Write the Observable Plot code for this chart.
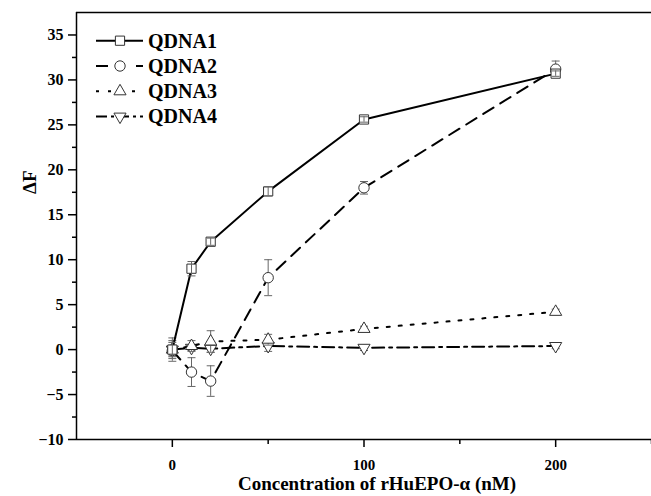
<!DOCTYPE html>
<html>
<head>
<meta charset="utf-8">
<script src="https://cdn.jsdelivr.net/npm/d3@7"></script>
<script src="https://cdn.jsdelivr.net/npm/@observablehq/plot@0.6"></script>
<style>
  html, body { margin: 0; padding: 0; background: #fff; }
  #chart svg { display: block; }
</style>
</head>
<body>
<div id="chart"></div>
<script>
// rHuEPO-α concentrations (nM) and fluorescence change ΔF for each probe
const concentrations = [0, 10, 20, 50, 100, 200];
const seriesNames = ["QDNA1", "QDNA2", "QDNA3", "QDNA4"];
const qdna1 = [0.0, 9.0, 12.0, 17.6, 25.6, 30.7];
const qdna1Err = [0.8, 0.8, 0.4, 0.5, 0.3, 0.3];
const qdna2 = [-0.1, -2.5, -3.5, 8.0, 18.0, 31.2];
const qdna2Err = [0.6, 1.6, 1.7, 2.0, 0.7, 0.9];
const qdna3 = [0.0, 0.4, 0.9, 1.1, 2.3, 4.2];
const qdna3Err = [1.0, 0.6, 1.2, 0.6, 0.3, 0.3];
const qdna4 = [0.0, 0.2, 0.1, 0.4, 0.2, 0.4];
const qdna4Err = [1.3, 0.3, 0.4, 0.6, 0.3, 0.3];

// Axis settings
const xDomain = [-50, 250];
const yDomain = [-10, 37.5];
const xTicks = [0, 100, 200];
const xMinorTicks = [50, 150, 250];
const yTicks = [-10, -5, 0, 5, 10, 15, 20, 25, 30, 35];
const yMinorTicks = [-7.5, -2.5, 2.5, 7.5, 12.5, 17.5, 22.5, 27.5, 32.5];
const xLabel = "Concentration of rHuEPO-α (nM)";
const yLabel = "ΔF";

const values = [qdna1, qdna2, qdna3, qdna4];
const errors = [qdna1Err, qdna2Err, qdna3Err, qdna4Err];

// Custom symbols: downward triangle and error-bar cap
const triangleDown = {
  draw(context, size) {
    const y = -Math.sqrt(size / (Math.sqrt(3) * 3));
    context.moveTo(0, -2 * y);
    context.lineTo(-Math.sqrt(3) * y, y);
    context.lineTo(Math.sqrt(3) * y, y);
    context.closePath();
  }
};
const capSymbol = {
  draw(context, size) {
    const w = Math.sqrt(size);
    context.moveTo(-w / 2, 0);
    context.lineTo(w / 2, 0);
  }
};

const styles = [
  {symbol: d3.symbolSquare, r: 5.2, dash: null},
  {symbol: d3.symbolCircle, r: 5.2, dash: "12,8"},
  {symbol: d3.symbolTriangle, r: 4.5, dash: "3,9"},
  {symbol: triangleDown, r: 4.5, dash: "12,5,3,5"}
];
const legendDash = [null, "12,28", "3,9", "11,4,3,4"];

const rows = seriesNames.flatMap((name, s) =>
  concentrations.map((c, i) => ({series: name, s, x: c, y: values[s][i], err: errors[s][i]}))
);

const serif = "'Liberation Serif', 'Times New Roman', serif";
const errColor = "#666";
const markColor = "#333";

function seriesMarks(s) {
  const data = rows.filter(d => d.s === s);
  const st = styles[s];
  const bars = [
    Plot.ruleX(data, {x: "x", y1: d => d.y - d.err, y2: d => d.y + d.err, stroke: errColor, strokeWidth: 1}),
    Plot.dot(data, {x: "x", y: d => d.y - d.err, symbol: capSymbol, r: 4.5, stroke: errColor, strokeWidth: 1}),
    Plot.dot(data, {x: "x", y: d => d.y + d.err, symbol: capSymbol, r: 4.5, stroke: errColor, strokeWidth: 1})
  ];
  const line = Plot.line(data, {
    x: "x", y: "y", stroke: "black", strokeWidth: 2,
    strokeDasharray: st.dash ?? undefined
  });
  const dots = Plot.dot(data, {
    x: "x", y: "y", symbol: st.symbol, r: st.r,
    fill: "white", stroke: markColor, strokeWidth: 1
  });
  // squares show their error bar on top of the marker
  return s === 0 ? [line, dots, ...bars] : [...bars, line, dots];
}

const chart = Plot.plot({
  width: 651,
  height: 496,
  marginLeft: 76,
  marginRight: 0,
  marginTop: 12,
  marginBottom: 57,
  style: {fontFamily: serif, background: "white", color: "black"},
  x: {domain: xDomain},
  y: {domain: yDomain},
  marks: [
    // plot box: left, bottom and top edges
    Plot.ruleX([xDomain[0]], {stroke: "black", strokeWidth: 1.5}),
    Plot.ruleY([yDomain[0]], {stroke: "black", strokeWidth: 1.5}),
    Plot.ruleY([yDomain[1]], {stroke: "black", strokeWidth: 1.5}),
    Plot.axisY({ticks: yTicks, tickSize: 8, tickPadding: 5, fontSize: 16, fontWeight: "bold", label: null, strokeWidth: 1.5}),
    Plot.axisY({ticks: yMinorTicks, tickSize: 4, tickFormat: () => "", label: null, strokeWidth: 1.5}),
    Plot.axisX({ticks: xTicks, tickSize: 8, tickPadding: 12, fontSize: 15, fontWeight: "bold", label: null, strokeWidth: 1.5}),
    Plot.axisX({ticks: xMinorTicks, tickSize: 5, tickFormat: () => "", label: null, strokeWidth: 1.5}),
    Plot.text([xLabel], {frameAnchor: "bottom", dx: 13, dy: 50, fontSize: 19, fontWeight: "bold", fill: "black"}),
    Plot.text([yLabel], {frameAnchor: "left", rotate: -90, dx: -47, dy: -32, fontSize: 19, fontWeight: "bold", fill: "black"}),
    ...seriesMarks(3),
    ...seriesMarks(2),
    ...seriesMarks(1),
    ...seriesMarks(0)
  ]
});

// Legend in the upper-left corner of the plot
const legend = d3.select(chart).append("g").attr("class", "legend");
seriesNames.forEach((name, s) => {
  const st = styles[s];
  const cy = 40.7 + s * 25.3;
  const g = legend.append("g").attr("transform", `translate(0,${cy})`);
  g.append("line")
    .attr("x1", 96).attr("x2", 143).attr("y1", 0).attr("y2", 0)
    .attr("stroke", "black").attr("stroke-width", 2)
    .attr("stroke-dasharray", legendDash[s]);
  g.append("path")
    .attr("transform", "translate(120,0)")
    .attr("d", d3.symbol(st.symbol, Math.PI * st.r * st.r)())
    .attr("fill", "white").attr("stroke", markColor).attr("stroke-width", 1);
  g.append("text")
    .attr("x", 148).attr("y", 6.8)
    .attr("text-anchor", "start")
    .attr("font-family", serif).attr("font-size", 20).attr("font-weight", "bold")
    .attr("fill", "black")
    .text(name);
});

document.getElementById("chart").append(chart);
</script>
</body>
</html>
